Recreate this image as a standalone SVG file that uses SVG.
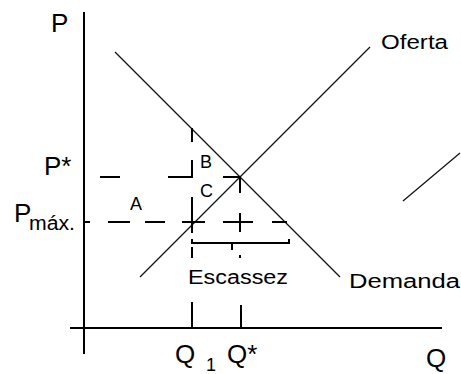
<svg xmlns="http://www.w3.org/2000/svg" width="461" height="374" viewBox="0 0 461 374">
<style>
.ax{stroke:#000;stroke-width:2;fill:none}
.cv{stroke:#111;stroke-width:1.3;fill:none}
.d{stroke:#000;stroke-width:2;fill:none}
.big{font-family:"Liberation Sans",Arial,sans-serif;font-size:26px;fill:#000}
.lab{font-family:"Liberation Sans",Arial,sans-serif;font-size:20px;fill:#000}
.sm{font-family:"Liberation Sans",Arial,sans-serif;font-size:18px;fill:#000}
</style>
<rect width="461" height="374" fill="#fff"/>
<g id="axes">
<line class="ax" x1="84" y1="12" x2="84" y2="354"/>
<line class="ax" x1="70" y1="328" x2="442" y2="328"/>
</g>
<g id="connectors">
<line id="demanda-line" class="cv" x1="115" y1="52" x2="340" y2="277"/>
<line id="oferta-line" class="cv" x1="140" y1="277" x2="370" y2="47"/>
<line id="slash" class="cv" x1="403" y1="201" x2="460" y2="153" stroke-width="1.5"/>
<path class="d" d="M100 177H120 M168 177H192V160 M192 128V142 M223 177H240V193"/>
<path class="d" d="M84 222H90 M108 222H130 M145 222H165 M182 222H205 M223 222H253 M272 222H287"/>
<path class="d" d="M192 197V233 M240 213V232"/>
<path class="d" d="M192 239V243H289V239"/>
<path class="d" d="M232 243V250" stroke-width="3"/>
<path class="d" d="M240 255V258"/>
<path class="d" d="M192 247V258"/>
<path class="d" d="M192 302V328 M241 305V328"/>
</g>
<g id="labels">
<text class="big" x="51" y="32">P</text>
<text class="big" x="44" y="175">P*</text>
<text class="big" x="14" y="222">P</text>
<text class="lab" x="29" y="230" textLength="46" lengthAdjust="spacingAndGlyphs">máx.</text>
<text class="sm" x="130" y="210">A</text>
<text class="sm" x="200" y="168">B</text>
<text class="sm" x="200" y="197">C</text>
<text class="lab" x="188" y="284" textLength="100" lengthAdjust="spacingAndGlyphs">Escassez</text>
<text class="lab" x="381" y="49" textLength="67" lengthAdjust="spacingAndGlyphs">Oferta</text>
<text class="lab" x="349" y="288" textLength="111" lengthAdjust="spacingAndGlyphs">Demanda</text>
<text class="big" x="175" y="363">Q</text>
<text class="sm" x="206" y="371" font-size="13">1</text>
<text class="big" x="227" y="363">Q*</text>
<text class="big" x="426" y="367">Q</text>
</g>
</svg>
